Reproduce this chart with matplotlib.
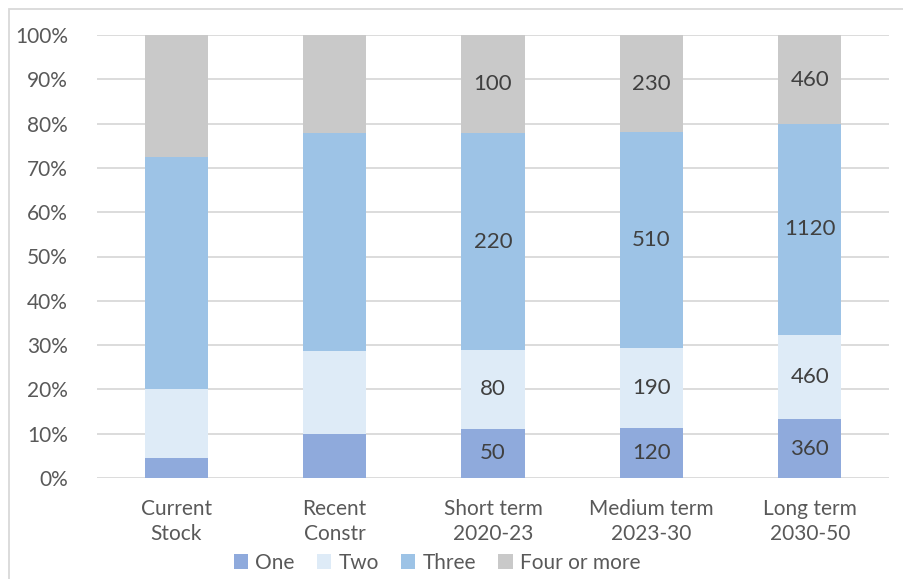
import matplotlib
matplotlib.use("Agg")
import matplotlib.pyplot as plt
from matplotlib.patches import Rectangle, Patch
import numpy as np

plt.rcParams['font.family'] = ['Lato', 'DejaVu Sans']

categories = ["Current\nStock", "Recent\nConstr", "Short term\n2020-23", "Medium term\n2023-30", "Long term\n2030-50"]
series_names = ["One", "Two", "Three", "Four or more"]
# shares in percent
share_one = [4.6, 9.9, 11.1, 11.3, 13.3]
share_two = [15.6, 18.8, 17.8, 18.1, 19.0]
share_three = [52.3, 49.1, 48.9, 48.6, 47.6]
share_four = [27.5, 22.2, 22.2, 22.0, 20.1]
# data labels (blank where none shown)
label_one = ["", "", "50", "120", "360"]
label_two = ["", "", "80", "190", "460"]
label_three = ["", "", "220", "510", "1120"]
label_four = ["", "", "100", "230", "460"]
yticks = [0, 10, 20, 30, 40, 50, 60, 70, 80, 90, 100]

colors = ["#8FAADC", "#DEEBF7", "#9DC3E6", "#C9C9C9"]

W, H = 904, 579
fig = plt.figure(figsize=(W / 100, H / 100), dpi=100)
ax = fig.add_axes([97 / W, (H - 478) / H, (889 - 97) / W, (478 - 35) / H])

# chart frame
fig.patches.append(Rectangle((9 / W, -0.1), 1.2, (H - 9.5) / H + 0.1, transform=fig.transFigure,
                             fill=False, edgecolor="#D9D9D9", linewidth=1.3, zorder=0))

x = np.arange(len(categories))
shares = [share_one, share_two, share_three, share_four]
labels = [label_one, label_two, label_three, label_four]
bottom = np.zeros(len(categories))
for s, lab, c, name in zip(shares, labels, colors, series_names):
    vals = np.array(s)
    bars = ax.bar(x, vals, 0.4, bottom=bottom, color=c, label=name, zorder=3)
    ax.bar_label(bars, labels=lab, label_type='center', fontsize=16, color="#404040")
    bottom += vals

ax.set_xlim(-0.5, len(categories) - 0.5)
ax.set_ylim(0, 100)
ax.set_yticks(yticks)
ax.set_yticklabels([f"{t}%" for t in yticks], fontsize=15, color="#595959")
ax.set_xticks(x)
ax.set_xticklabels(categories, fontsize=15, color="#595959", linespacing=1.3)
ax.tick_params(axis='both', length=0)
ax.tick_params(axis='y', pad=21)
ax.tick_params(axis='x', pad=15)
ax.grid(axis='y', color="#D9D9D9", linewidth=1.3, zorder=0)
for sp in ax.spines.values():
    sp.set_visible(False)

handles = [Patch(facecolor=c, edgecolor='none') for c in colors]
fig.legend(handles, series_names, loc='center', bbox_to_anchor=(437 / W, (H - 563) / H),
           ncol=4, frameon=False, fontsize=15, labelcolor="#595959",
           handlelength=0.7, handleheight=0.7, handletextpad=0.35, columnspacing=1.05)

fig.savefig("out.png", dpi=100)
